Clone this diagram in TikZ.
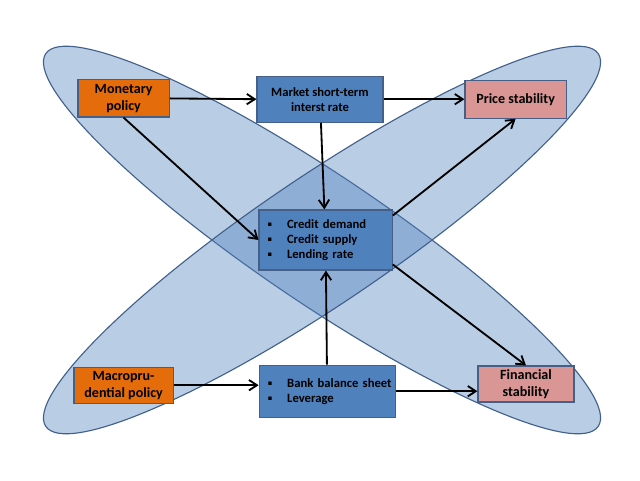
\documentclass[tikz,border=0pt]{standalone}
\usepackage{fontspec}
\setmainfont{Carlito}
\usepackage{amssymb}
\usetikzlibrary{arrows.meta}
\definecolor{ellfill}{RGB}{79,129,189}
\definecolor{ellline}{RGB}{66,96,140}
\definecolor{policyor}{RGB}{228,108,10}
\definecolor{channelbl}{RGB}{79,129,189}
\definecolor{goalpk}{RGB}{217,150,148}
\definecolor{boxline}{RGB}{70,95,135}
\newcommand{\bul}[1]{\hspace*{0.17cm}\makebox[0.48cm][l]{\raisebox{0.25ex}{\scalebox{0.4}{$\blacksquare$}}}#1}

\begin{document}
\begin{tikzpicture}[
    box/.style = {draw=boxline, line width=0.8pt, align=center, inner sep=2pt},
    policy/.style = {box, fill=policyor, font=\bfseries\fontsize{10}{12}\selectfont},
    goal/.style = {box, fill=goalpk, font=\bfseries\fontsize{10}{12}\selectfont},
    channel/.style = {box, fill=channelbl, font=\bfseries\fontsize{9}{10.6}\selectfont},
    bullets/.style = {channel, align=left, inner xsep=0.05cm},
    arr/.style = {line width=1.3pt, -{Straight Barb[length=2mm,width=2.6mm]}}
  ]
    \useasboundingbox (0,0) rectangle (16,-12);
    % the two crossing ellipses
    \foreach \a in {-34,34}
      \draw[fill=ellfill, fill opacity=0.4, draw=ellline, line width=0.8pt,
        rotate around={\a:(8.05,-6)}] (8.05,-6) ellipse (8.33 and 1.6);

    \node[policy, minimum width=2.28cm, minimum height=0.93cm] (monetary) at (3.09,-2.46) {Monetary\\policy};
    \node[channel, minimum width=3.15cm, minimum height=1.15cm] (market) at (8.0,-2.48) {Market short-term\\interst rate};
    \node[goal, minimum width=2.53cm, minimum height=0.95cm] (price) at (12.89,-2.48) {Price stability};
    \node[bullets, text width=3.23cm, minimum height=1.5cm] (credit) at (8.14,-6.0)
      {\bul{Credit demand}\\\bul{Credit supply}\\\bul{Lending rate}};
    \node[policy, minimum width=2.48cm, minimum height=0.9cm] (macro) at (3.09,-9.63) {Macropru-\\dential policy};
    \node[bullets, text width=3.3cm, minimum height=1.3cm] (bank) at (8.18,-9.78)
      {\bul{Bank balance sheet}\\\bul{Leverage}};
    \node[goal, minimum width=2.4cm, minimum height=0.9cm] (financial) at (13.15,-9.6) {Financial\\stability};

    \foreach \s/\t in {monetary.east/market.west, market.east/price.west,
      monetary.south/credit.west, market/credit, credit.20/price.south,
      credit.-20/financial.north, bank/credit}
      \draw[arr] (\s) -- (\t);
    \draw[arr] (macro.east) -- (macro.east -| bank.west);
    \draw[arr] (bank.east) -- (bank.east -| financial.west);
\end{tikzpicture}
\end{document}
